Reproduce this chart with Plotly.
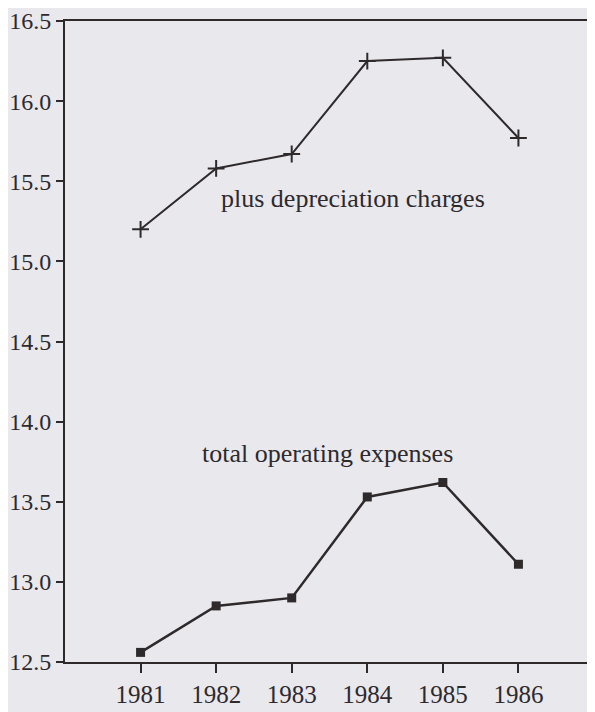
import plotly.graph_objects as go

years = [1981, 1982, 1983, 1984, 1985, 1986]
plus_depreciation = [15.20, 15.58, 15.67, 16.25, 16.27, 15.77]
total_operating = [12.56, 12.85, 12.90, 13.53, 13.62, 13.11]
ytick_vals = [12.5, 13.0, 13.5, 14.0, 14.5, 15.0, 15.5, 16.0, 16.5]
ytick_text = ["12.5", "13.0", "13.5", "14.0", "14.5", "15.0", "15.5", "16.0", "16.5"]

ink = "#2e2a2c"
fnt = "Liberation Serif"
bg = "#e9e8ed"

fig = go.Figure()
fig.add_trace(go.Scatter(
    x=years, y=plus_depreciation, mode="lines+markers",
    line=dict(color=ink, width=2),
    marker=dict(symbol="cross-thin", size=12, line=dict(color=ink, width=2)),
    showlegend=False))
fig.add_trace(go.Scatter(
    x=years, y=total_operating, mode="lines+markers",
    line=dict(color=ink, width=2.5),
    marker=dict(symbol="square", size=9, color=ink),
    showlegend=False))

fig.add_annotation(x=1983.81, y=15.39, text="plus depreciation charges",
                   showarrow=False, font=dict(family=fnt, size=26, color=ink))
fig.add_annotation(x=1983.47, y=13.80, text="total operating expenses",
                   showarrow=False, font=dict(family=fnt, size=26, color=ink))

fig.update_layout(
    width=587, height=704,
    margin=dict(l=57, r=1, t=13, b=50),
    paper_bgcolor=bg, plot_bgcolor=bg,
    font=dict(family=fnt, size=25, color=ink),
)
fig.update_xaxes(range=[1980, 1987], tickvals=years, ticks="outside", ticklen=9,
                 tickwidth=2, tickcolor=ink, showgrid=False, zeroline=False,
                 showline=True, linecolor=ink, linewidth=2, mirror=True,
                 automargin=False, ticklabeloverflow="allow",
                 tickfont=dict(family=fnt, size=25, color=ink))
fig.update_yaxes(range=[12.5, 16.5], tickvals=ytick_vals, ticktext=ytick_text,
                 ticks="outside", ticklen=7, tickwidth=2, tickcolor=ink,
                 showgrid=False, zeroline=False, showline=True, linecolor=ink,
                 linewidth=2, mirror=True, automargin=False,
                 ticklabeloverflow="allow",
                 tickfont=dict(family=fnt, size=24, color=ink))

fig.write_html("out.html", include_plotlyjs=True)
